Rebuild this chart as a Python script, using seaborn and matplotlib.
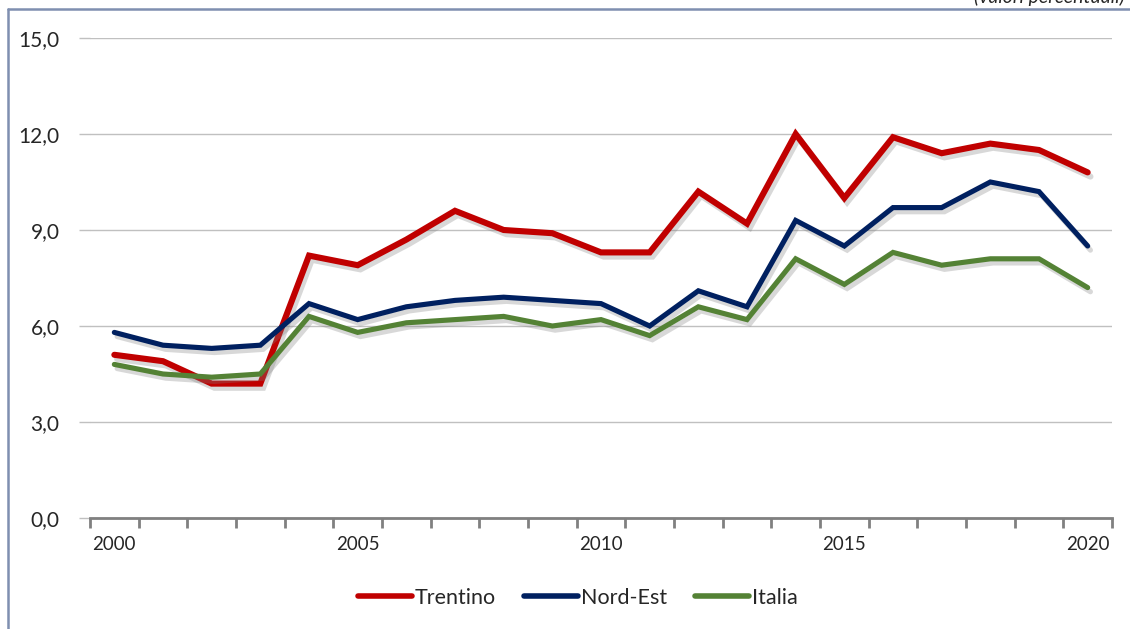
import pandas as pd
import numpy as np
import matplotlib.pyplot as plt
import matplotlib.patheffects as pe
from matplotlib.lines import Line2D
import seaborn as sns

# dati (valori percentuali)
anni = list(range(2000, 2021))
trentino = [5.1, 4.9, 4.2, 4.2, 8.2, 7.9, 8.7, 9.6, 9.0, 8.9, 8.3, 8.3, 10.2, 9.2, 12.0, 10.0, 11.9, 11.4, 11.7, 11.5, 10.8]
nord_est = [5.8, 5.4, 5.3, 5.4, 6.7, 6.2, 6.6, 6.8, 6.9, 6.8, 6.7, 6.0, 7.1, 6.6, 9.3, 8.5, 9.7, 9.7, 10.5, 10.2, 8.5]
italia = [4.8, 4.5, 4.4, 4.5, 6.3, 5.8, 6.1, 6.2, 6.3, 6.0, 6.2, 5.7, 6.6, 6.2, 8.1, 7.3, 8.3, 7.9, 8.1, 8.1, 7.2]
serie = ['Trentino', 'Nord-Est', 'Italia']
colori = ['#C00000', '#002060', '#548235']

df = pd.DataFrame({'anno': anni, 'Trentino': trentino, 'Nord-Est': nord_est, 'Italia': italia})
df['pos'] = np.arange(len(anni))
df_long = df.melt(id_vars=['anno', 'pos'], value_vars=serie, var_name='serie', value_name='valore')

sns.set_style("white")
plt.rcParams['font.family'] = ['Lato', 'DejaVu Sans']

fig = plt.figure(figsize=(11.3, 6.29), dpi=100)
ax = fig.add_axes([90 / 1130, 1 - 518 / 629, (1112 - 90) / 1130, (518 - 38) / 629])

sns.lineplot(data=df_long, x='pos', y='valore', hue='serie', hue_order=serie,
             palette=colori, ax=ax, legend=False)

ombra = [pe.SimpleLineShadow(offset=(2, -3), alpha=0.3, shadow_color='gray'), pe.Normal()]
for line, lw in zip(ax.get_lines(), [4.4, 3.7, 3.7]):
    line.set_linewidth(lw)
    line.set_solid_joinstyle('miter')
    line.set_solid_capstyle('round')
    line.set_path_effects(ombra)

# assi
ax.set_ylim(0, 15)
ax.set_xlim(-0.5, len(anni) - 0.5)
ax.set_yticks(np.arange(0, 15.1, 3))
ax.set_yticklabels([f"{v:.1f}".replace('.', ',') for v in np.arange(0, 15.1, 3)])
ax.grid(axis='y', color='#C0C0C0', linewidth=1)
ax.set_axisbelow(True)
ax.tick_params(axis='y', length=8, width=1, color='#C0C0C0', labelsize=15, pad=14, left=True)

ax.set_xticks([0, 5, 10, 15, 20])
ax.set_xticklabels(['2000', '2005', '2010', '2015', '2020'])
ax.set_xticks(np.arange(-0.5, len(anni)), minor=True)
ax.tick_params(axis='x', which='major', length=0, labelsize=13.5, pad=13)
ax.tick_params(axis='x', which='minor', length=7, width=2, color='#808080', bottom=True)
ax.set_xlabel('')
ax.set_ylabel('')

for s in ['top', 'right', 'left']:
    ax.spines[s].set_visible(False)
ax.spines['bottom'].set_color('#808080')
ax.spines['bottom'].set_linewidth(2)

# legenda
handles = [Line2D([0], [0], color=c, lw=4, solid_capstyle='round') for c in colori]
fig.legend(handles, serie, loc='center', bbox_to_anchor=(578 / 1130, 1 - 598 / 629), ncol=3,
           frameon=False, fontsize=15.5, handlelength=2.5, handletextpad=0.15, columnspacing=1.3)

# cornice
fig.add_artist(Line2D([8 / 1130, 8 / 1130], [0, 1 - 9 / 629], color='#7F8FB0', lw=1.8))
fig.add_artist(Line2D([8 / 1130, 1], [1 - 9 / 629, 1 - 9 / 629], color='#7F8FB0', lw=1.8))
fig.text(1125 / 1130, 1 - 3 / 629, '(valori percentuali)', ha='right', va='baseline',
         fontsize=14, style='italic')

plt.savefig('out.png', dpi=100)
